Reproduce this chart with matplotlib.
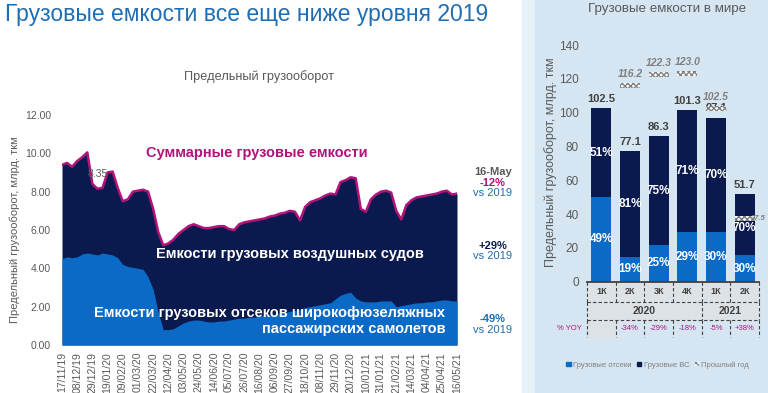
import matplotlib
matplotlib.use("Agg")
import matplotlib.pyplot as plt
import matplotlib.patches as mpatches
import matplotlib.transforms as mtransforms
import numpy as np
import pandas as pd

plt.rcParams["font.family"] = ["Liberation Sans", "DejaVu Sans"]

# weekly capacity, bn tkm
start_date = "2019-11-17"
total_capacity = [
    9.4, 9.5, 9.3, 9.6, 9.8, 10.05, 8.4, 8.15, 8.2, 9.0,
    9.05, 8.2, 7.5, 7.6, 8.0, 8.05, 8.1, 8.0, 7.1, 5.9,
    5.2, 5.3, 5.5, 5.8, 6.0, 6.2, 6.3, 6.2, 6.1, 6.1,
    6.15, 6.2, 6.2, 6.05, 6.0, 6.3, 6.4, 6.45, 6.5, 6.55,
    6.6, 6.7, 6.75, 6.85, 6.9, 7.0, 6.95, 6.5, 7.2, 7.45,
    7.55, 7.65, 7.8, 7.9, 7.85, 8.5, 8.6, 8.75, 8.7, 7.1,
    6.95, 7.6, 7.85, 8.0, 8.05, 7.95, 7.0, 6.55, 7.3, 7.55,
    7.7, 7.75, 7.8, 7.85, 7.9, 8.0, 8.05, 7.85, 7.9,
]
belly_capacity = [
    4.5, 4.6, 4.55, 4.6, 4.75, 4.8, 4.75, 4.7, 4.8, 4.75,
    4.7, 4.55, 4.2, 4.1, 4.05, 4.0, 3.95, 3.55, 2.9, 1.7,
    0.8, 0.8, 0.85, 1.0, 1.15, 1.25, 1.3, 1.3, 1.25, 1.2,
    1.2, 1.25, 1.25, 1.3, 1.35, 1.4, 1.4, 1.45, 1.45, 1.5,
    1.55, 1.6, 1.6, 1.65, 1.7, 1.75, 1.8, 1.85, 1.95, 2.0,
    2.05, 2.1, 2.15, 2.2, 2.4, 2.6, 2.7, 2.75, 2.45, 2.3,
    2.25, 2.25, 2.25, 2.3, 2.3, 2.3, 2.0, 2.05, 2.1, 2.15,
    2.2, 2.2, 2.25, 2.25, 2.3, 2.35, 2.35, 2.3, 2.3,
]

# quarterly world capacity
quarters = ["1К", "2К", "3К", "4К", "1К", "2К"]
years = ["2020", "2021"]
quarters_per_year = [4, 2]
quarter_totals = [102.5, 77.1, 86.3, 101.3, 97.1, 51.7]
belly_share = [49, 19, 25, 29, 30, 30]
freighter_share = [51, 81, 75, 71, 70, 70]
prev_year = [None, 116.2, 122.3, 123.0, 102.5, 37.5]
yoy_labels = ["", "-34%", "-29%", "-18%", "-5%", "+38%"]

BLUE = "#0B6AC6"
NAVY = "#0A1A4E"
MAGENTA = "#B0137A"
GRAY = "#595959"
TITLE_BLUE = "#1F6DB3"

fig = plt.figure(figsize=(7.68, 3.93), dpi=100)
W, H = 768, 393

# right panel background
fig.patches.append(mpatches.Rectangle((522 / W, 0), 13 / W, 1, transform=fig.transFigure,
                                      color="#E6F1F8", zorder=-10))
fig.patches.append(mpatches.Rectangle((535 / W, 0), 1 - 535 / W, 1, transform=fig.transFigure,
                                      color="#D5E6F2", zorder=-10))

fig.text(5 / W, 1 - 15 / H, "Грузовые емкости все еще ниже уровня 2019",
         fontsize=16.5, color=TITLE_BLUE, va="center", ha="left")
fig.text(259 / W, 1 - 77 / H, "Предельный грузооборот", fontsize=9.2, color=GRAY,
         ha="center", va="center")

# ---- left chart
dates = pd.date_range(start_date, periods=len(total_capacity), freq="7D")
ax = fig.add_axes([62 / W, 48 / H, 395 / W, 230 / H])
ax.fill_between(dates, 0, total_capacity, color=NAVY, lw=0)
ax.fill_between(dates, 0, belly_capacity, color=BLUE, lw=0)
ax.plot(dates, total_capacity, color=MAGENTA, lw=1.8)

ax.set_xlim(dates[0], dates[-1])
ax.set_ylim(0, 12)
ax.set_yticks(np.arange(0, 13, 2))
ax.set_yticklabels([f"{v:.2f}" for v in np.arange(0, 13, 2)])
ax.set_xticks(dates[::3])
ax.set_xticklabels([d.strftime("%d/%m/%y") for d in dates[::3]], rotation=90)
ax.tick_params(length=0, labelsize=7.5, colors=GRAY)
ax.tick_params(axis="y", pad=8)
ax.tick_params(axis="x", pad=5)
for s in ax.spines.values():
    s.set_visible(False)
ax.set_ylabel("Предельный грузооборот, млрд. ткм", fontsize=8, color=GRAY)
ax.yaxis.set_label_coords(-0.106, 0.5)

ax.text(0.494, 0.836, "Суммарные грузовые емкости", transform=ax.transAxes,
        fontsize=10.5, fontweight="bold", color=MAGENTA, ha="center", va="center")
ax.text(0.577, 0.396, "Емкости грузовых воздушных судов", transform=ax.transAxes,
        fontsize=10.5, fontweight="bold", color="white", ha="center", va="center")
ax.text(0.970, 0.105, "Емкости грузовых отсеков широкофюзеляжных\nпассажирских самолетов",
        transform=ax.transAxes, fontsize=10.5, fontweight="bold", color="white",
        ha="right", va="center", multialignment="right", linespacing=1.15)
ax.text(0.091, 0.743, "8.35", transform=ax.transAxes, fontsize=7.5, color="#5A5A5A",
        ha="center", va="center")

notes = [
    (0.7535, "16-May", GRAY, "bold"),
    (0.7057, "-12%", MAGENTA, "bold"),
    (0.6596, "vs 2019", TITLE_BLUE, "normal"),
    (0.4317, "+29%", NAVY, "bold"),
    (0.387, "vs 2019", TITLE_BLUE, "normal"),
    (0.1117, "-49%", TITLE_BLUE, "bold"),
    (0.0652, "vs 2019", TITLE_BLUE, "normal"),
]
for yy, txt, col, fw in notes:
    ax.text(1.091, yy, txt, transform=ax.transAxes, fontsize=8, color=col,
            fontweight=fw, ha="center", va="center")

# ---- right chart
fig.text(667 / W, 1 - 9 / H, "Грузовые емкости в мире", fontsize=9.6, color=GRAY,
         ha="center", va="center")

bx = fig.add_axes([587 / W, 111.3 / H, 172 / W, 236.7 / H])
bx.set_facecolor("none")
x = np.arange(len(quarters))
belly_vals = [t * b / 100 for t, b in zip(quarter_totals, belly_share)]
fr_vals = [t - b for t, b in zip(quarter_totals, belly_vals)]
bx.bar(x, belly_vals, width=0.7, color=BLUE)
bx.bar(x, fr_vals, bottom=belly_vals, width=0.7, color=NAVY)

fig_y = mtransforms.blended_transform_factory(fig.transFigure, bx.transData)
for i in range(len(quarters)):
    bx.annotate(f"{quarter_totals[i]:.1f}", (x[i], quarter_totals[i]), xytext=(0, 3),
                textcoords="offset points", ha="center", va="bottom", fontsize=8,
                fontweight="bold", color="#404040")
    bx.text(x[i], belly_vals[i] / 2, f"{belly_share[i]}%", ha="center", va="center",
            fontsize=8.5, fontweight="bold", color="white")
    fr_y = belly_vals[i] + fr_vals[i] / 2
    if prev_year[i] is not None and prev_year[i] < quarter_totals[i]:
        # keep the share label clear of the last-year marker inside the bar
        fr_y = min(fr_y, prev_year[i] - 6)
    bx.text(x[i], fr_y, f"{freighter_share[i]}%", ha="center",
            va="center", fontsize=8.5, fontweight="bold", color="white")
    if prev_year[i] is not None:
        bx.add_patch(mpatches.Rectangle((x[i] - 0.35, prev_year[i] - 1.5), 0.7, 3.0,
                                        facecolor="white", edgecolor="#7F7F7F",
                                        hatch="xxxxxx", lw=0, zorder=3))
        if i == len(quarters) - 1:
            # squeezed in at the right edge of the picture
            bx.text(0.997, prev_year[i], f"{prev_year[i]:.1f}", transform=fig_y,
                    ha="right", va="center", fontsize=5.5, fontstyle="italic",
                    fontweight="bold", color="#7F7F7F", clip_on=False)
        else:
            bx.annotate(f"{prev_year[i]:.1f}", (x[i], prev_year[i] + 1.5), xytext=(0, 3),
                        textcoords="offset points", ha="center", va="bottom",
                        fontsize=7.5, fontstyle="italic", fontweight="bold",
                        color="#7F7F7F")

bx.set_xlim(-0.5, len(quarters) - 0.5)
bx.set_ylim(0, 140)
bx.set_yticks(range(0, 141, 20))
bx.set_xticks([])
bx.tick_params(length=0, labelsize=8.5, colors=GRAY, pad=6)
for s in bx.spines.values():
    s.set_visible(False)
bx.set_ylabel("Предельный грузооборот, млрд. ткм", fontsize=9, color=GRAY)
bx.yaxis.set_label_coords(-0.174, 0.507)

# table under the bars
tr = mtransforms.blended_transform_factory(bx.transData, bx.transAxes)
r1, r2, r3 = -0.085, -0.162, -0.233
n = len(quarters)
cell_gray = "#DCE2E6"
bx.add_patch(mpatches.Rectangle((-0.5, r2), n, -r2, transform=tr, color=cell_gray,
                                clip_on=False, zorder=0))
bx.add_patch(mpatches.Rectangle((-0.5, r3), 1, r2 - r3, transform=tr,
                                color=cell_gray, clip_on=False, zorder=0))
bx.plot([-0.5, n - 0.5], [0, 0], transform=tr, color="#404040", lw=1.3, clip_on=False)
dash = dict(color="#404040", lw=0.8, ls=(0, (3, 2)), clip_on=False, transform=tr)
bx.plot([-0.5, n - 0.5], [r1, r1], **dash)
bx.plot([-0.5, n - 0.5], [r2, r2], **dash)
for k in range(n + 1):
    bx.plot([k - 0.5, k - 0.5], [0, r1], **dash)
    bx.plot([k - 0.5, k - 0.5], [r2, r3], **dash)
edges = np.cumsum([0] + quarters_per_year)
for e in edges:
    bx.plot([e - 0.5, e - 0.5], [r1, r2], **dash)
for i, q in enumerate(quarters):
    bx.text(x[i], (0 + r1) / 2, q, transform=tr, ha="center", va="center", fontsize=6.5,
            fontweight="bold", color="#404040")
    bx.text(x[i], (r2 + r3) / 2, yoy_labels[i], transform=tr, ha="center", va="center",
            fontsize=5.5, color=MAGENTA)
for j, yr in enumerate(years):
    mid = (edges[j] + edges[j + 1] - 1) / 2
    bx.text(mid, (r1 + r2) / 2, yr, transform=tr, ha="center", va="center", fontsize=7.5,
            fontweight="bold", color="#404040")
bx.text(-0.03, (r2 + r3) / 2, "% YOY", transform=bx.transAxes, ha="right", va="center",
        fontsize=5.5, color=MAGENTA)

handles = [
    mpatches.Patch(color=BLUE, label="Грузовые отсеки"),
    mpatches.Patch(color=NAVY, label="Грузовые ВС"),
    mpatches.Patch(facecolor="white", edgecolor="#7F7F7F", hatch="xxxx", lw=0,
                   label="Прошлый год"),
]
fig.legend(handles=handles, loc="center left", bbox_to_anchor=(566 / W, 1 - 365 / H),
           ncol=3, frameon=False, fontsize=5.5, labelcolor="#7F7F7F",
           handlelength=0.6, handleheight=0.6, handletextpad=0.3, columnspacing=0.7,
           borderaxespad=0, borderpad=0)

fig.savefig("out.png", dpi=100)
